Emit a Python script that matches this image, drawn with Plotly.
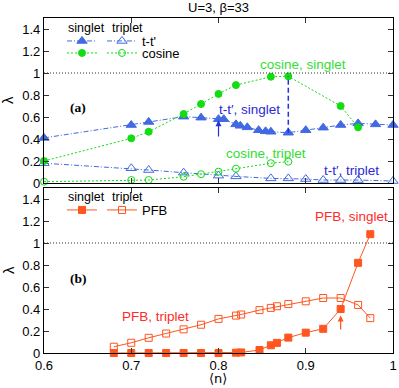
import plotly.graph_objects as go

# ---------------- data ----------------
tt_singlet_x = [0.60, 0.70, 0.72, 0.76, 0.78, 0.80, 0.806, 0.82, 0.825, 0.833, 0.846, 0.854, 0.86, 0.88, 0.90, 0.92, 0.94, 0.96, 0.98, 1.00]
tt_singlet_y = [0.41, 0.527, 0.555, 0.603, 0.594, 0.58, 0.58, 0.533, 0.52, 0.506, 0.48, 0.47, 0.466, 0.457, 0.48, 0.503, 0.527, 0.542, 0.533, 0.527]

tt_triplet_x = [0.60, 0.70, 0.72, 0.76, 0.80, 0.82, 0.86, 0.88, 0.90, 0.92, 0.94, 0.96, 1.00]
tt_triplet_y = [0.18, 0.134, 0.118, 0.094, 0.067, 0.06, 0.042, 0.042, 0.036, 0.027, 0.027, 0.027, 0.018]

cos_singlet_x = [0.60, 0.70, 0.72, 0.76, 0.78, 0.80, 0.82, 0.86, 0.88, 0.94, 0.96]
cos_singlet_y = [0.20, 0.406, 0.466, 0.627, 0.718, 0.81, 0.89, 0.966, 0.97, 0.70, 0.506]

cos_triplet_x = [0.60, 0.70, 0.72, 0.76, 0.78, 0.80, 0.82, 0.86, 0.88]
cos_triplet_y = [0.012, 0.027, 0.027, 0.057, 0.08, 0.103, 0.13, 0.18, 0.194]

pfb_x = [0.68, 0.70, 0.72, 0.74, 0.76, 0.78, 0.80, 0.82, 0.826, 0.847, 0.86, 0.867, 0.88, 0.90, 0.92, 0.94, 0.96, 0.974]
pfb_singlet_y = [0, 0, 0, 0, 0, 0, 0, 0.003, 0.005, 0.027, 0.07, 0.092, 0.14, 0.185, 0.22, 0.40, 0.82, 1.08]
pfb_triplet_y = [0.057, 0.093, 0.138, 0.177, 0.215, 0.257, 0.31, 0.34, 0.35, 0.39, 0.41, 0.425, 0.445, 0.47, 0.50, 0.50, 0.437, 0.317]

x_ticks = [0.6, 0.7, 0.8, 0.9, 1.0]
y_ticks = [0, 0.2, 0.4, 0.6, 0.8, 1.0, 1.2, 1.4]

# arrows / guide lines (data coordinates)
arrow_a = dict(x=0.80, y_from=0.41, y_to=0.57)
dash_a = dict(x=0.88, y_from=0.457, y_to=0.97)
arrow_b = dict(x=0.94, y_from=0.20, y_to=0.34)

# ---------------- style ----------------
FONT = "Liberation Sans, Arial, sans-serif"
SERIF = "Liberation Serif, Times New Roman, serif"
BLUE = "#4169e1"
BLUE_TXT = "#2a2ad8"
GREEN = "#11dd11"
GREEN_TXT = "#33dd33"
RED = "#ff5520"
RED_TXT = "#ff2a2a"

W, H = 399, 388
L_PX, R_PX = 44, 393
TOP_PX, BOT_PX = 18, 353

def px_x(px):   # pixel column -> paper x
    return (px - L_PX) / (R_PX - L_PX)

def px_y(py):   # pixel row -> paper y
    return (BOT_PX - py) / (BOT_PX - TOP_PX)

fig = go.Figure()

def add(x, y, name, color, symbol, dash, size, xa, ya, legend):
    fig.add_trace(go.Scatter(
        x=x, y=y, mode="lines+markers", name=name,
        line=dict(color=color, width=1, dash=dash),
        marker=dict(color=color, symbol=symbol, size=size,
                    line=dict(color=color, width=1)),
        xaxis=xa, yaxis=ya, legend=legend, cliponaxis=False,
    ))

DASHDOT = "5px,2px,1px,2px"
DOTTED = "2px,2px"
add(tt_singlet_x, tt_singlet_y, " ", BLUE, "triangle-up", DASHDOT, 9, "x", "y", "legend")
add(tt_triplet_x, tt_triplet_y, "t-t'", BLUE, "triangle-up-open", DASHDOT, 9, "x", "y", "legend2")
add(cos_singlet_x, cos_singlet_y, " ", GREEN, "circle", DOTTED, 7, "x", "y", "legend3")
add(cos_triplet_x, cos_triplet_y, "cosine", GREEN, "circle-open", DOTTED, 7, "x", "y", "legend4")
add(pfb_x, pfb_singlet_y, " ", RED, "square", "solid", 7, "x2", "y2", "legend5")
add(pfb_x, pfb_triplet_y, "PFB", RED, "square-open", "solid", 7, "x2", "y2", "legend6")

axis_common = dict(
    showline=True, linecolor="black", linewidth=1.2, mirror="ticks",
    ticks="inside", ticklen=5, tickwidth=1, tickcolor="#333",
    showgrid=False, zeroline=False,
    tickfont=dict(family=FONT, size=13, color="black"),
)

fig.update_layout(
    width=W, height=H,
    margin=dict(l=L_PX, r=W - R_PX, t=TOP_PX, b=H - BOT_PX, autoexpand=False),
    paper_bgcolor="white", plot_bgcolor="white",
    font=dict(family=FONT, size=13, color="black"),
    showlegend=True,
    xaxis=dict(axis_common, range=[0.6, 1.0], tickvals=x_ticks, showticklabels=False,
               anchor="y", domain=[0, 1]),
    yaxis=dict(axis_common, range=[0, 1.5], tickvals=y_ticks, anchor="x",
               domain=[px_y(183), 1]),
    xaxis2=dict(axis_common, range=[0.6, 1.0], tickvals=x_ticks, anchor="y2", domain=[0, 1]),
    yaxis2=dict(axis_common, range=[0, 1.5], tickvals=y_ticks, anchor="x2",
                domain=[0, px_y(188)]),
)

leg_common = dict(xref="paper", yref="paper", xanchor="left", yanchor="middle",
                  bgcolor="rgba(0,0,0,0)", borderwidth=0, itemwidth=30,
                  font=dict(family=FONT, size=13, color="black"))

fig.update_layout(
    legend=dict(leg_common, x=px_x(62), y=px_y(41)),
    legend2=dict(leg_common, x=px_x(102), y=px_y(41)),
    legend3=dict(leg_common, x=px_x(62), y=px_y(53)),
    legend4=dict(leg_common, x=px_x(102), y=px_y(53)),
    legend5=dict(leg_common, x=px_x(62), y=px_y(210)),
    legend6=dict(leg_common, x=px_x(102), y=px_y(210)),
)

# reference lines at lambda = 1
for xa, ya in (("x", "y"), ("x2", "y2")):
    fig.add_shape(type="line", xref=xa, yref=ya,
                  x0=0.6, x1=1.0, y0=1, y1=1,
                  line=dict(color="#333", width=1, dash="1px,2px"))

# dashed vertical line in (a)
fig.add_shape(type="line", xref="x", yref="y",
              x0=dash_a["x"], x1=dash_a["x"], y0=dash_a["y_from"], y1=dash_a["y_to"],
              line=dict(color="#2233dd", width=1.5, dash="5px,3px"))

ann = []
ann.append(dict(x=arrow_a["x"], y=arrow_a["y_to"], ax=arrow_a["x"], ay=arrow_a["y_from"],
                xref="x", yref="y", axref="x", ayref="y", text="", showarrow=True,
                arrowhead=2, arrowsize=1, arrowwidth=1.2, arrowcolor="#2233dd"))
ann.append(dict(x=arrow_b["x"], y=arrow_b["y_to"], ax=arrow_b["x"], ay=arrow_b["y_from"],
                xref="x2", yref="y2", axref="x2", ayref="y2", text="", showarrow=True,
                arrowhead=2, arrowsize=1, arrowwidth=1.2, arrowcolor=RED))

def label(text, x, y, color, xr="x", yr="y", size=13.5, fam=FONT, angle=0):
    ann.append(dict(text=text, x=x, y=y, xref=xr, yref=yr, showarrow=False,
                    font=dict(family=fam, size=size, color=color), textangle=angle,
                    xanchor="center", yanchor="middle"))

label("cosine, singlet", 0.897, 1.073, GREEN_TXT)
label("t-t′, singlet", 0.835, 0.664, BLUE_TXT)
label("cosine, triplet", 0.855, 0.27, GREEN_TXT)
label("t-t′, triplet", 0.952, 0.112, BLUE_TXT)
label("PFB, singlet", 0.952, 1.24, RED_TXT, "x2", "y2")
label("PFB, triplet", 0.728, 0.33, RED_TXT, "x2", "y2")
label("<b>(a)</b>", 0.639, 0.69, "black", size=13.5, fam=SERIF)
label("<b>(b)</b>", 0.639, 0.68, "black", "x2", "y2", size=13.5, fam=SERIF)

# column headers of the keys
for txt, xpx, ypx in [("singlet", 86.5, 28), ("triplet", 127.5, 28),
                      ("singlet", 86.5, 197), ("triplet", 127.5, 197)]:
    label(txt, px_x(xpx), px_y(ypx), "black", "paper", "paper", size=12.5)

# title and axis titles
label("U=3, β=33", px_x(218), px_y(8), "black", "paper", "paper", size=13)
for ypx in (100, 270):
    label("λ", px_x(8), px_y(ypx), "black", "paper", "paper", size=15, angle=-90)
label("⟨n⟩", px_x(218), px_y(379), "black", "paper", "paper", size=13,
      fam="DejaVu Sans, " + FONT)

fig.update_layout(annotations=ann)

# remove the default page margin so the figure sits at the window origin
fig.write_html("out.html",
               config={"displayModeBar": False},
               post_script="document.body.style.margin='0';document.body.style.overflow='hidden';")
